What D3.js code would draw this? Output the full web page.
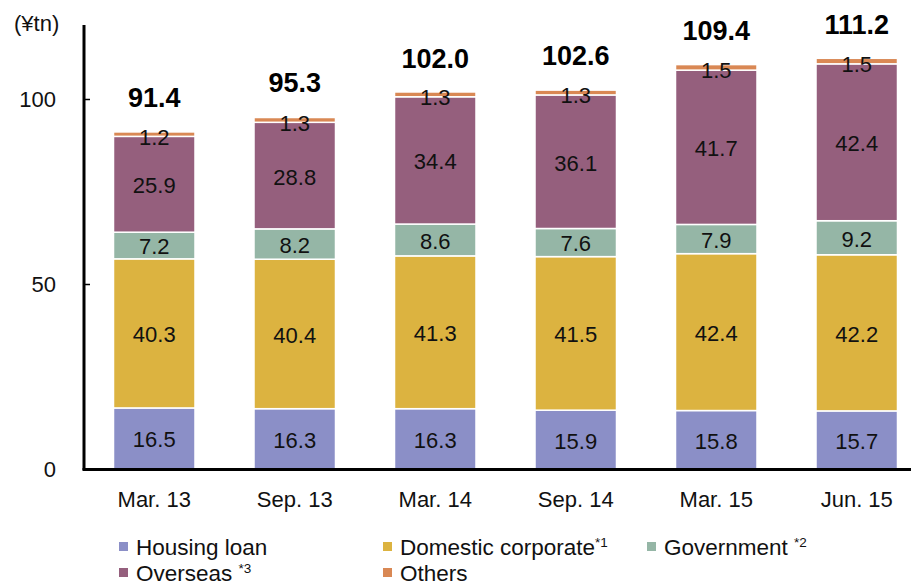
<!DOCTYPE html>
<html><head><meta charset="utf-8">
<script src="https://cdn.jsdelivr.net/npm/d3@7"></script>
<style>body{margin:0;background:#fff}svg{display:block;font-family:"Liberation Sans",Arial,sans-serif}</style>
</head><body>
<svg id="c" width="911" height="586"></svg>
<script>
const categories = ["Mar. 13","Sep. 13","Mar. 14","Sep. 14","Mar. 15","Jun. 15"];
const housingLoan = [16.5,16.3,16.3,15.9,15.8,15.7];
const domesticCorporate = [40.3,40.4,41.3,41.5,42.4,42.2];
const government = [7.2,8.2,8.6,7.6,7.9,9.2];
const overseas = [25.9,28.8,34.4,36.1,41.7,42.4];
const others = [1.2,1.3,1.3,1.3,1.5,1.5];
const totals = [91.4,95.3,102.0,102.6,109.4,111.2];
const yTicks = [0,50,100];

const series = [
  {name:"Housing loan", sup:"", values:housingLoan, color:"#8b8fc7"},
  {name:"Domestic corporate", sup:"*1", values:domesticCorporate, color:"#dcb340"},
  {name:"Government ", sup:"*2", values:government, color:"#95b6a6"},
  {name:"Overseas ", sup:"*3", values:overseas, color:"#955f7d"},
  {name:"Others", sup:"", values:others, color:"#d98854"}
];

const svg = d3.select("#c");
const x = d3.scaleBand().domain(categories).range([84, 927]).paddingInner(0.42).paddingOuter(0.21);
const y = d3.scaleLinear().domain([0,100]).range([469, 99]);

const rows = categories.map((c,i)=>{ let acc=0; return series.map(s=>{const y0=acc; acc+=s.values[i]; return {cat:c,s,v:s.values[i],y0,y1:acc};}); });

const g = svg.append("g");
rows.forEach(r=>{
  r.forEach(d=>{
    g.append("rect").attr("x",x(d.cat)).attr("width",x.bandwidth())
      .attr("y",y(d.y1)).attr("height",y(d.y0)-y(d.y1))
      .attr("fill",d.s.color).attr("stroke","#fff").attr("stroke-width",1.5);
  });
});
rows.forEach(r=>{
  r.forEach(d=>{
    const isOthers = d.s.name==="Others";
    g.append("text").attr("x",x(d.cat)+x.bandwidth()/2)
      .attr("y",(y(d.y0)+y(d.y1))/2 + (isOthers?3:1))
      .attr("dy","0.36em").attr("text-anchor","middle")
      .attr("font-size",22).attr("fill","#111").text(d.v.toFixed(1));
  });
});
categories.forEach((c,i)=>{
  g.append("text").attr("x",x(c)+x.bandwidth()/2).attr("y",y(totals[i])-24)
    .attr("text-anchor","middle").attr("font-size",27).attr("font-weight","bold")
    .attr("fill","#000").text(totals[i].toFixed(1));
});

// axes
const yAxis = svg.append("g").attr("transform","translate(84,0)")
  .call(d3.axisRight(y).tickValues(yTicks).tickSize(6).tickFormat(""));
yAxis.select(".domain").remove();
yAxis.selectAll("line").attr("stroke","#000").attr("stroke-width",1.5);
yTicks.forEach(t=>{
  svg.append("text").attr("x",56).attr("y",y(t)).attr("dy","0.36em").attr("text-anchor","end")
    .attr("font-size",22).attr("fill","#111").text(t);
});
svg.append("line").attr("x1",84).attr("x2",84).attr("y1",25).attr("y2",470).attr("stroke","#000").attr("stroke-width",3);
svg.append("line").attr("x1",82.5).attr("x2",911).attr("y1",469.5).attr("y2",469.5).attr("stroke","#000").attr("stroke-width",3);
svg.append("text").attr("x",14).attr("y",31).attr("font-size",22).attr("fill","#111").text("(¥tn)");

const xAxis = svg.append("g").attr("transform","translate(0,469)")
  .call(d3.axisBottom(x).tickSize(0).tickFormat(""));
xAxis.select(".domain").remove();
categories.forEach(c=>{
  svg.append("text").attr("x",x(c)+x.bandwidth()/2).attr("y",507)
    .attr("text-anchor","middle").attr("font-size",22).attr("fill","#111").text(c);
});

// legend
const legendPos = [[119,555],[383,555],[647,555],[119,581],[383,581]];
series.forEach((s,i)=>{
  const [lx,ly] = legendPos[i];
  svg.append("rect").attr("x",lx).attr("y",ly-13).attr("width",9).attr("height",9).attr("fill",s.color);
  const t = svg.append("text").attr("x",lx+17).attr("y",ly).attr("font-size",22.5).attr("fill","#111");
  t.append("tspan").text(s.name);
  if(s.sup) t.append("tspan").attr("font-size",13.5).attr("dy",-8).text(s.sup);
});
</script>
</body></html>
